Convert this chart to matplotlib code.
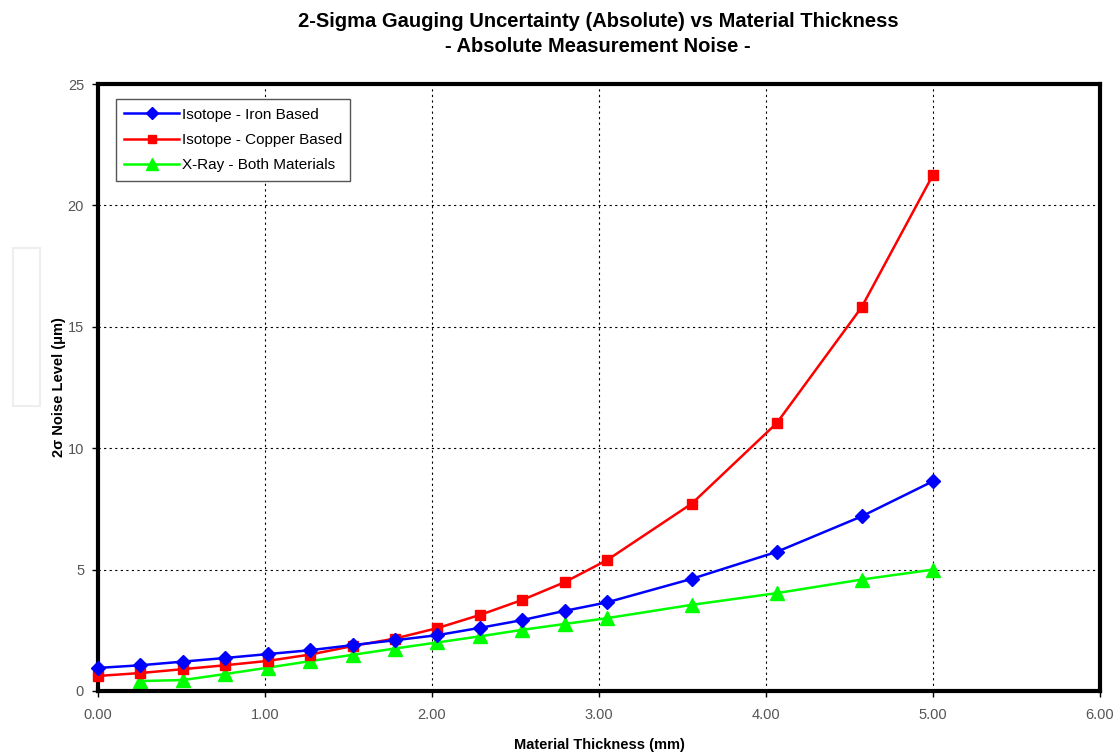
import matplotlib
matplotlib.use("Agg")
import matplotlib.pyplot as plt
from matplotlib.patches import Rectangle

plt.rcParams['font.family'] = ['Liberation Sans', 'DejaVu Sans']

# thickness in mm (0.01 inch steps)
thickness = [0.000, 0.254, 0.508, 0.762, 1.016, 1.270, 1.524, 1.778, 2.032,
             2.286, 2.540, 2.794, 3.048, 3.556, 4.064, 4.572, 5.000]
iron = [0.95, 1.06, 1.21, 1.36, 1.52, 1.68, 1.89, 2.09, 2.30,
        2.60, 2.92, 3.30, 3.65, 4.62, 5.73, 7.19, 8.64]
copper = [0.62, 0.74, 0.90, 1.06, 1.24, 1.50, 1.85, 2.16, 2.59,
          3.13, 3.75, 4.48, 5.39, 7.72, 11.03, 15.80, 21.26]
xray_thickness = thickness[1:]
xray = [0.41, 0.45, 0.70, 0.96, 1.23, 1.49, 1.75, 2.00,
        2.25, 2.52, 2.76, 3.00, 3.55, 4.03, 4.59, 5.00]

fig = plt.figure(figsize=(11.18, 7.56), dpi=100)
ax = fig.add_axes([98 / 1118, 1 - 691 / 756, (1100 - 98) / 1118, (691 - 84) / 756])

ax.plot(thickness, iron, color='#0000ff', lw=1.8, marker='D', ms=7.5,
        label='Isotope - Iron Based', zorder=4, clip_on=False)
ax.plot(thickness, copper, color='#ff0000', lw=1.8, marker='s', ms=7.5,
        label='Isotope - Copper Based', zorder=3, clip_on=False)
ax.plot(xray_thickness, xray, color='#00ff00', lw=1.8, marker='^', ms=9.5,
        label='X-Ray - Both Materials', zorder=2, clip_on=False)

ax.set_xlim(0, 6)
ax.set_ylim(0, 25)
ax.set_xticks([0, 1, 2, 3, 4, 5, 6])
ax.set_xticklabels(['%.2f' % v for v in [0, 1, 2, 3, 4, 5, 6]])
ax.set_yticks([0, 5, 10, 15, 20, 25])
ax.tick_params(axis='both', labelsize=10.5, labelcolor='#555555', length=4,
               width=1, direction='out', color='black', pad=8)
ax.tick_params(axis='y', pad=6)
ax.grid(True, color='black', linestyle=(0, (2, 3)), linewidth=0.8)
for s in ax.spines.values():
    s.set_linewidth(3)
ax.set_axisbelow(True)

ax.set_xlabel('Material Thickness (mm)', fontsize=10.5, fontweight='bold', labelpad=12)
ax.set_ylabel('2σ Noise Level (μm)', fontsize=10.5, fontweight='bold', labelpad=1)
fig.text(0.535, 0.971, '2-Sigma Gauging Uncertainty (Absolute) vs Material Thickness',
         ha='center', va='center', fontsize=14.5, fontweight='bold')
fig.text(0.535, 0.938, '- Absolute Measurement Noise -',
         ha='center', va='center', fontsize=14.5, fontweight='bold')

leg = ax.legend(loc='upper left', bbox_to_anchor=(0.018, 0.975), fontsize=11,
                frameon=True, fancybox=False, framealpha=1, edgecolor='#555555',
                handlelength=3.6, handletextpad=0.15, labelspacing=0.75,
                borderpad=0.55, borderaxespad=0, markerscale=0.85)
leg.get_frame().set_linewidth(1)

# faint box at left edge
fig.patches.append(Rectangle((13 / 1118, 1 - 406 / 756), 27 / 1118, 158 / 756,
                             transform=fig.transFigure, fill=False,
                             edgecolor='#eeeeee', lw=1.5))

plt.savefig("out.png", dpi=100)
